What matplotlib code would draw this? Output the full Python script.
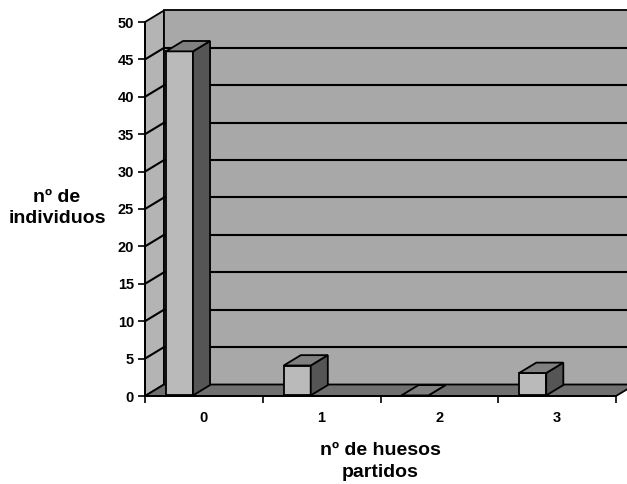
import matplotlib
matplotlib.use("Agg")
import matplotlib.pyplot as plt
from matplotlib.patches import Polygon
from matplotlib.ticker import FixedLocator, NullFormatter

# counts per number of broken bones
categories = ["0", "1", "2", "3"]
individuos = [46, 4, 0, 3]
y_ticks = list(range(0, 55, 5))
y_max = 50

plt.rcParams["font.family"] = ["Liberation Sans", "DejaVu Sans"]
plt.rcParams["font.weight"] = "bold"

fig = plt.figure(figsize=(6.27, 4.84), dpi=100)
ax = fig.add_axes([145 / 627, 88 / 484, 471 / 627, 374 / 484])
x0, x1 = -0.5, len(categories) - 0.5
ax.set_xlim(x0, x1)
ax.set_ylim(0, y_max)

# oblique depth: pixel offsets converted to data units
bbox = ax.get_window_extent()
ppx = bbox.width / (x1 - x0)
ppy = bbox.height / y_max
DX = 19 / ppx
DY = 11.5 / ppy


def proj(x, v, d):
    return (x + d * DX, v + d * DY)


def face(pts, color, z):
    ax.add_patch(Polygon([proj(*p) for p in pts], closed=True, facecolor=color,
                         edgecolor="black", linewidth=1.3, zorder=z, clip_on=False))


# walls and floor
face([(x0, 0, 0), (x0, 0, 1), (x0, y_max, 1), (x0, y_max, 0)], "#b4b4b4", 0)
face([(x0, 0, 1), (x1, 0, 1), (x1, y_max, 1), (x0, y_max, 1)], "#a8a8a8", 0)
face([(x0, 0, 0), (x1, 0, 0), (x1, 0, 1), (x0, 0, 1)], "#707070", 1)

# gridlines on the back wall and the side wall
for v in y_ticks[1:-1]:
    xs, ys = zip(proj(x0, v, 1), proj(x1, v, 1))
    ax.plot(xs, ys, color="black", lw=1.5, zorder=1, clip_on=False)
    xs, ys = zip(proj(x0, v, 0), proj(x0, v, 1))
    ax.plot(xs, ys, color="black", lw=1.5, zorder=1, clip_on=False)

# 3d columns
bar_off = 20 / ppx
bar_w = 27 / ppx
d0, d1 = 0.05, 0.95
for i, val in enumerate(individuos):
    left = i - 0.5 + bar_off
    right = left + bar_w
    z = 3 + i
    face([(left, 0, d0), (right, 0, d0), (right, val, d0), (left, val, d0)], "#bababa", z)
    face([(right, 0, d0), (right, 0, d1), (right, val, d1), (right, val, d0)], "#555555", z)
    face([(left, val, d0), (right, val, d0), (right, val, d1), (left, val, d1)], "#808080", z)

# axes
for s in ["top", "right"]:
    ax.spines[s].set_visible(False)
for s in ["left", "bottom"]:
    ax.spines[s].set_linewidth(1.4)
    ax.spines[s].set_zorder(10)
ax.set_yticks(y_ticks)
ax.tick_params(axis="y", direction="out", length=5, width=1.2, labelsize=10.5, pad=3)

ax.set_xticks(range(len(categories)))
ax.set_xticklabels(categories)
ax.xaxis.set_minor_locator(FixedLocator([i - 0.5 for i in range(len(categories) + 1)]))
ax.xaxis.set_minor_formatter(NullFormatter())
ax.tick_params(axis="x", which="major", length=0, labelsize=10.5, pad=11)
ax.tick_params(axis="x", which="minor", direction="out", length=5, width=1.2)

ax.set_ylabel("nº de\nindividuos", rotation=0, fontsize=14, fontweight="bold",
              ha="center", va="center", linespacing=1.35)
ax.yaxis.set_label_coords(-0.187, 0.503)
ax.set_xlabel("nº de huesos\npartidos", fontsize=14, fontweight="bold",
              ha="center", va="center", linespacing=1.4)
ax.xaxis.set_label_coords(0.499, -0.175)

fig.savefig("out.png", dpi=100)
